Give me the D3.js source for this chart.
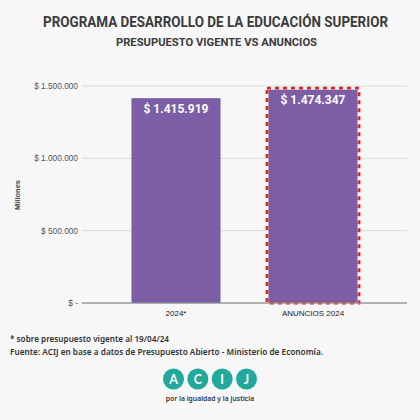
<!DOCTYPE html>
<html><head><meta charset="utf-8">
<script src="https://cdn.jsdelivr.net/npm/d3@7"></script>
<style>body{margin:0;background:#f6f6f7}svg{display:block}</style>
</head><body>
<script>
const categories = ["2024*", "ANUNCIOS 2024"];
const values = [1415919, 1474347];
const valueLabels = ["$ 1.415.919", "$ 1.474.347"];
const tickValues = [0, 500000, 1000000, 1500000];
const tickLabels = ["$ -", "$ 500.000", "$ 1.000.000", "$ 1.500.000"];
const title = "PROGRAMA DESARROLLO DE LA EDUCACIÓN SUPERIOR";
const subtitle = "PRESUPUESTO VIGENTE VS ANUNCIOS";
const notes = ["* sobre presupuesto vigente al 19/04/24", "Fuente: ACIJ en base a datos de Presupuesto Abierto - Ministerio de Economía."];
const logoLetters = ["A", "C", "I", "J"];

const W = 420, H = 420;
const svg = d3.select("body").append("svg").attr("width", W).attr("height", H);
svg.append("rect").attr("width", W).attr("height", H).attr("fill", "#f7f7f8");

const x = d3.scaleBand().domain(categories).range([82, 407]).paddingInner(0.35).paddingOuter(0.361);
const y = d3.scaleLinear().domain([0, 1500000]).range([303, 86]);

// titles
svg.append("text").attr("x", 215.5).attr("y", 27).attr("text-anchor", "middle")
  .attr("font-family", "Roboto").attr("font-weight", 700).attr("font-size", 14.5)
  .attr("fill", "#3b3b3b").attr("textLength", 345).attr("lengthAdjust", "spacingAndGlyphs").text(title);
svg.append("text").attr("x", 216.5).attr("y", 46).attr("text-anchor", "middle")
  .attr("font-family", "Roboto").attr("font-weight", 700).attr("font-size", 11)
  .attr("fill", "#3b3b3b").attr("textLength", 201).attr("lengthAdjust", "spacingAndGlyphs").text(subtitle);

// gridlines
svg.append("g").selectAll("line").data(tickValues).join("line")
  .attr("x1", 82).attr("x2", 407).attr("y1", d => y(d)).attr("y2", d => y(d))
  .attr("stroke", d => d === 0 ? "#9a9a9a" : "#d9d9d9").attr("stroke-width", 1);

// y axis labels
const yAxis = d3.axisLeft(y).tickValues(tickValues).tickFormat((d, i) => tickLabels[i]).tickSize(0).tickPadding(0);
const gy = svg.append("g").attr("transform", "translate(78,0)").call(yAxis);
gy.select(".domain").remove();
gy.selectAll("text").attr("font-family", "Liberation Sans").attr("font-size", 8.3).attr("fill", "#555").attr("dy", "0.32em");

svg.append("text").attr("transform", "translate(20,195) rotate(-90)").attr("text-anchor", "middle")
  .attr("font-family", "Liberation Sans").attr("font-weight", 700).attr("font-size", 7.5).attr("fill", "#444").text("Millones");

// bars
svg.append("g").selectAll("rect").data(values).join("rect")
  .attr("x", (d, i) => x(categories[i])).attr("width", x.bandwidth())
  .attr("y", d => y(d)).attr("height", d => y(0) - y(d)).attr("fill", "#7b5ea6");

// dashed outline on announcement bar
svg.append("rect")
  .attr("x", x(categories[1]) - 1.5).attr("width", x.bandwidth() + 3)
  .attr("y", y(values[1]) - 1.5).attr("height", y(0) - y(values[1]) + 1.5)
  .attr("fill", "none").attr("stroke", "#d42c26").attr("stroke-width", 2.8).attr("stroke-dasharray", "4,4");
svg.append("line").attr("x1", 82).attr("x2", 407).attr("y1", y(0)).attr("y2", y(0)).attr("stroke", "#9a9a9a");

// value labels
svg.append("g").selectAll("text").data(values).join("text")
  .attr("x", (d, i) => x(categories[i]) + x.bandwidth() / 2).attr("y", d => y(d) + 14.5)
  .attr("text-anchor", "middle").attr("font-family", "Roboto").attr("font-weight", 700).attr("font-size", 12)
  .attr("fill", "#ffffff").text((d, i) => valueLabels[i]);

// x axis labels
const xAxis = d3.axisBottom(x).tickSize(0).tickPadding(0);
const gx = svg.append("g").attr("transform", "translate(0,313)").call(xAxis);
gx.select(".domain").remove();
gx.selectAll("text").attr("font-family", "Liberation Sans").attr("font-size", 8).attr("fill", "#222").attr("dy", "0.32em");

// notes
svg.append("g").selectAll("text").data(notes).join("text")
  .attr("x", 10).attr("y", (d, i) => 342 + i * 12.5)
  .attr("font-family", "Noto Sans").attr("font-weight", 600).attr("font-size", 8.3).attr("fill", "#333")
  .attr("textLength", (d, i) => i === 0 ? 159 : 313).attr("lengthAdjust", "spacingAndGlyphs").text(d => d);

// logo
const lg = svg.append("g");
const lx = d3.scalePoint().domain(logoLetters).range([173.5, 246.5]);
lg.selectAll("circle").data(logoLetters).join("circle")
  .attr("cx", d => lx(d)).attr("cy", 379).attr("r", 10.5).attr("fill", "#22a99c");
lg.selectAll("text").data(logoLetters).join("text")
  .attr("x", d => lx(d)).attr("y", 379).attr("dy", "0.36em").attr("text-anchor", "middle")
  .attr("font-family", "Lato").attr("font-weight", 700).attr("font-size", 12.5).attr("fill", "#fff").text(d => d);
svg.append("text").attr("x", 210).attr("y", 401).attr("text-anchor", "middle")
  .attr("font-family", "Noto Sans").attr("font-weight", 600).attr("font-size", 6.8).attr("fill", "#333")
  .text("por la igualdad y la justicia");
</script>
</body></html>
